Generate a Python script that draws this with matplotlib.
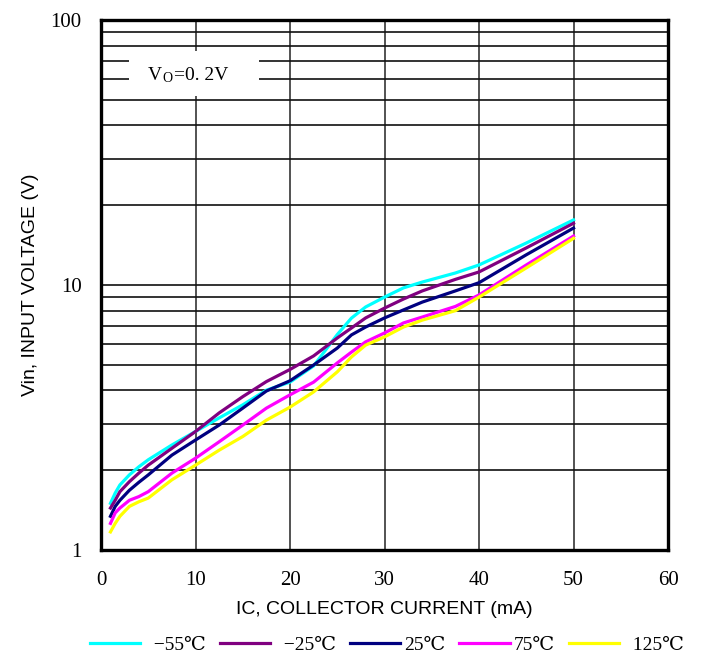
import matplotlib
matplotlib.use("Agg")
import matplotlib.pyplot as plt
from matplotlib.patches import Rectangle
from matplotlib.ticker import FixedLocator, LogLocator, NullFormatter

# collector current (mA) and input voltage (V)
ic = [1, 1.5, 2, 3, 4, 5, 7.5, 10, 12.5, 15, 17.5, 20, 22.5, 25, 26.5, 28,
      30, 32, 34, 37.5, 40, 45, 50]

vin_m55 = [1.50, 1.64, 1.76, 1.92, 2.06, 2.19, 2.49, 2.80, 3.15, 3.53, 4.01,
           4.30, 4.95, 6.50, 7.50, 8.26, 9.00, 9.75, 10.26, 11.1, 11.9, 14.4, 17.6]
vin_m25 = [1.44, 1.54, 1.66, 1.81, 1.95, 2.09, 2.42, 2.80, 3.29, 3.79, 4.32,
           4.80, 5.40, 6.31, 6.88, 7.51, 8.18, 8.85, 9.50, 10.5, 11.2, 13.8, 17.1]
vin_25 = [1.34, 1.46, 1.54, 1.68, 1.80, 1.92, 2.28, 2.60, 2.96, 3.43, 3.98,
          4.35, 4.99, 5.78, 6.48, 6.94, 7.51, 8.05, 8.62, 9.50, 10.2, 13.0, 16.4]
vin_75 = [1.26, 1.38, 1.44, 1.54, 1.59, 1.66, 1.95, 2.22, 2.56, 2.96, 3.43,
          3.85, 4.30, 5.08, 5.58, 6.10, 6.59, 7.19, 7.57, 8.30, 9.17, 11.9, 15.3]
vin_125 = [1.17, 1.26, 1.34, 1.46, 1.52, 1.57, 1.84, 2.09, 2.38, 2.68, 3.09,
           3.46, 3.95, 4.70, 5.35, 5.93, 6.37, 6.94, 7.37, 8.00, 9.00, 11.6, 15.0]

series = [
    ('  \u221255\u2103', vin_m55, '#00FFFF'),
    ('  \u221225\u2103', vin_m25, '#800080'),
    ('25\u2103', vin_25, '#000080'),
    ('75\u2103', vin_75, '#FF00FF'),
    ('  125\u2103', vin_125, '#FFFF00'),
]

x_ticks = [0, 10, 20, 30, 40, 50, 60]
y_ticks = [1, 10, 100]
y_tick_labels = ['1', '10', '100']

SERIF = ['Liberation Serif', 'DejaVu Serif', 'Noto Sans CJK SC']
SANS = ['Liberation Sans', 'DejaVu Sans']

fig = plt.figure(figsize=(7.02, 6.6), dpi=100)
ax = fig.add_axes([0.1439, 0.1667, 0.8077, 0.803])

for label, vals, color in series:
    ax.plot(ic, vals, color=color, lw=2.3, label=label)

ax.set_yscale('log')
ax.set_xlim(0, 60)
ax.set_ylim(1, 100)

ax.xaxis.set_major_locator(FixedLocator(x_ticks))
ax.set_xticklabels([str(t) for t in x_ticks], family=SERIF, fontsize=15)
ax.yaxis.set_major_locator(FixedLocator(y_ticks))
ax.yaxis.set_minor_locator(LogLocator(base=10, subs=range(2, 10)))
ax.yaxis.set_minor_formatter(NullFormatter())
ax.set_yticklabels(y_tick_labels, family=SERIF, fontsize=15)
ax.tick_params(axis='both', which='both', length=0)
ax.tick_params(axis='x', pad=15)
ax.tick_params(axis='y', pad=14)

ax.grid(which='major', axis='x', color='#444444', lw=1.3)
ax.grid(which='both', axis='y', color='#111111', lw=1.2)
ax.set_axisbelow(True)

for sp in ax.spines.values():
    sp.set_linewidth(2.4)
    sp.set_color('black')

ax.set_xlabel('IC, COLLECTOR CURRENT (mA)', family=SANS, fontsize=14, labelpad=8)
ax.set_ylabel('Vin, INPUT VOLTAGE (V)', family=SANS, fontsize=14, labelpad=8)

# condition label on a white patch over the grid
ax.add_patch(Rectangle((0.049, 0.857), 0.229, 0.085, transform=ax.transAxes,
                       facecolor='white', edgecolor='none', zorder=2))
ax.text(0.083, 0.895, 'V', transform=ax.transAxes, family=SERIF, fontsize=14,
        va='center', ha='left', zorder=3)
ax.text(0.108, 0.889, 'O', transform=ax.transAxes, family=SERIF, fontsize=10,
        va='center', ha='left', zorder=3)
ax.text(0.128, 0.895, '=0. 2V', transform=ax.transAxes, family=SERIF, fontsize=14,
        va='center', ha='left', zorder=3)

fig.legend(loc='center', bbox_to_anchor=(0.551, 0.023), ncol=5, frameon=False,
           prop={'family': SERIF, 'size': 14}, handlelength=2.6,
           handletextpad=0.2, columnspacing=0.7, borderaxespad=0)

fig.savefig('out.png', dpi=100)
